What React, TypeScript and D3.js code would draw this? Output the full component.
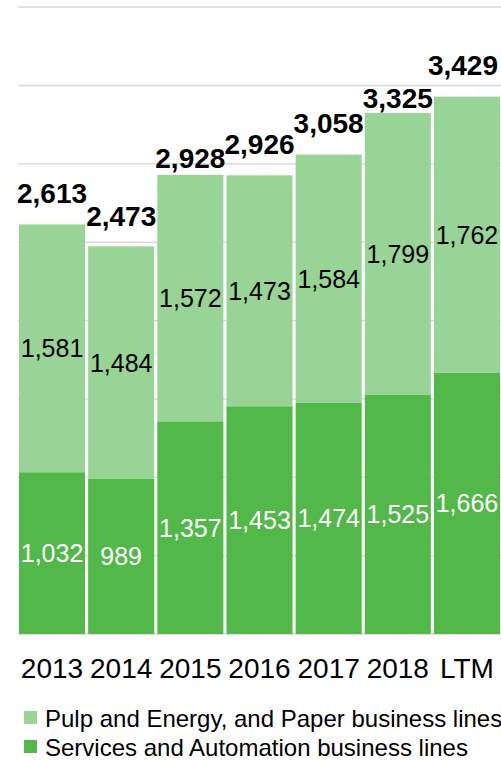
import React from "react";
import * as d3 from "d3";

const categories = ["2013", "2014", "2015", "2016", "2017", "2018", "LTM"];
const servicesValues = [1032, 989, 1357, 1453, 1474, 1525, 1666];
const pulpValues = [1581, 1484, 1572, 1473, 1584, 1799, 1762];
const totalValues = [2613, 2473, 2928, 2926, 3058, 3325, 3429];
const gridTicks = [0, 500, 1000, 1500, 2000, 2500, 3000, 3500, 4000];

const seriesNames = [
  "Pulp and Energy, and Paper business lines",
  "Services and Automation business lines",
];

// gap between bar top and its total label (the source nudges some labels down)
const totalLabelGap = [21, 20, 7, 21, 22, 5, 22];

const DARK = "#52b84a";
const LIGHT = "#98d495";
const FONT = "'Liberation Sans', Arial, sans-serif";

const width = 501;
const height = 760;

const App: React.FC = () => {
  const x = d3
    .scaleBand<string>()
    .domain(categories)
    .range([19, 500])
    .paddingInner(0.045)
    .paddingOuter(0);

  const y = d3.scaleLinear().domain([0, 4000]).range([634, 7]);
  const fmt = d3.format(",");

  const rows = categories.map((c, i) => ({
    cat: c,
    services: servicesValues[i],
    pulp: pulpValues[i],
    total: totalValues[i],
  }));

  const stack = d3.stack<any>().keys(["services", "pulp"])(rows);

  return (
    <svg
      width={width}
      height={height}
      style={{ position: "absolute", left: 0, top: 0, display: "block" }}
      fontFamily={FONT}
    >
      {/* gridlines */}
      {gridTicks.map((t) => (
        <line
          key={t}
          x1={18}
          x2={width}
          y1={y(t)}
          y2={y(t)}
          stroke="#d9d9d9"
          strokeWidth={1.5}
        />
      ))}

      {/* stacked bars */}
      {stack.map((layer) => (
        <g key={layer.key} fill={layer.key === "services" ? DARK : LIGHT}>
          {layer.map((d, i) => (
            <rect
              key={i}
              x={x(categories[i])}
              width={x.bandwidth()}
              y={y(d[1])}
              height={y(d[0]) - y(d[1])}
            />
          ))}
        </g>
      ))}

      {/* segment labels */}
      {stack.map((layer) =>
        layer.map((d, i) => (
          <text
            key={layer.key + i}
            x={x(categories[i])! + x.bandwidth() / 2}
            y={(y(d[0]) + y(d[1])) / 2}
            dy="0.36em"
            textAnchor="middle"
            fontSize={25}
            fill={layer.key === "services" ? "#ffffff" : "#000000"}
          >
            {fmt(d[1] - d[0])}
          </text>
        ))
      )}

      {/* totals */}
      {rows.map((r, i) => {
        const cx = x(r.cat)! + x.bandwidth() / 2;
        const overflow = cx + 36 > width - 2;
        return (
          <text
            key={r.cat}
            x={overflow ? width - 3 : cx}
            y={y(r.total) - totalLabelGap[i]}
            textAnchor={overflow ? "end" : "middle"}
            fontSize={28}
            fontWeight="bold"
            fill="#000"
          >
            {fmt(r.total)}
          </text>
        );
      })}

      {/* x axis labels */}
      {categories.map((c) => (
        <text
          key={c}
          x={x(c)! + x.bandwidth() / 2}
          y={678}
          textAnchor="middle"
          fontSize={28}
          fill="#000"
        >
          {c}
        </text>
      ))}

      {/* legend */}
      {seriesNames.map((name, i) => (
        <g key={name} transform={`translate(24, ${711 + i * 29})`}>
          <rect width={13} height={13} fill={i === 0 ? LIGHT : DARK} />
          <text x={21} y={16} fontSize={24} fill="#000">
            {name}
          </text>
        </g>
      ))}
    </svg>
  );
};

export default App;
